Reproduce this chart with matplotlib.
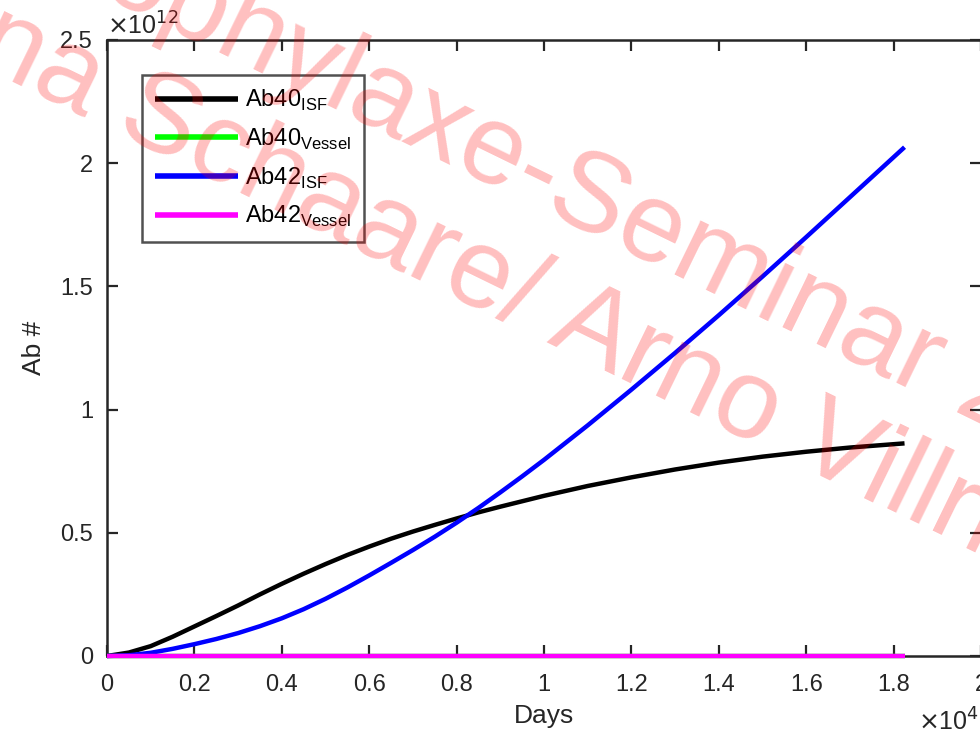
import matplotlib
matplotlib.use("Agg")
import matplotlib.pyplot as plt
from matplotlib.ticker import MultipleLocator, FuncFormatter

plt.rcParams['font.family'] = ['Liberation Sans', 'DejaVu Sans']

# ---- data (days, Ab count in units of 1e12) ----
days = [0, 500, 1000, 1500, 2000, 2500, 3000, 3500, 4000, 4500, 5000, 5500, 6000,
        6500, 7000, 7500, 8000, 8500, 9000, 9500, 10000, 11000, 12000, 13000,
        14000, 15000, 16000, 17000, 18250]
ab40_isf = [0, 0.014, 0.04, 0.078, 0.12, 0.162, 0.205, 0.25, 0.293, 0.334, 0.373, 0.41,
            0.444, 0.476, 0.505, 0.532, 0.558, 0.583, 0.606, 0.628, 0.65, 0.69,
            0.725, 0.757, 0.785, 0.809, 0.829, 0.846, 0.863]
ab42_isf = [0, 0.003, 0.013, 0.029, 0.048, 0.069, 0.093, 0.121, 0.153, 0.19, 0.232, 0.278,
            0.327, 0.378, 0.43, 0.484, 0.541, 0.601, 0.664, 0.729, 0.796, 0.936,
            1.081, 1.23, 1.383, 1.54, 1.70, 1.862, 2.065]
ab40_vessel = [0] * len(days)
ab42_vessel = [0] * len(days)
scale_y = 1e12

series = [
    (r'Ab40$_{\mathregular{ISF}}$', ab40_isf, 'black'),
    (r'Ab40$_{\mathregular{Vessel}}$', ab40_vessel, '#00ff00'),
    (r'Ab42$_{\mathregular{ISF}}$', ab42_isf, 'blue'),
    (r'Ab42$_{\mathregular{Vessel}}$', ab42_vessel, 'magenta'),
]

fig = plt.figure(figsize=(9.8, 7.35), dpi=100)
ax = fig.add_axes([107/980, 1 - 656/735, (981 - 107)/980, (656 - 40)/735])

for label, vals, col in series:
    ax.plot(days, [v * scale_y for v in vals], color=col, lw=3.2, label=label,
            solid_capstyle='butt', solid_joinstyle='round', clip_on=False, zorder=3)

ax.set_xlim(0, 20000)
ax.set_ylim(0, 2.5e12)
ax.xaxis.set_major_locator(MultipleLocator(2000))
ax.yaxis.set_major_locator(MultipleLocator(0.5e12))
ax.xaxis.set_major_formatter(FuncFormatter(lambda v, p: f"{v/1e4:g}"))
ax.yaxis.set_major_formatter(FuncFormatter(lambda v, p: f"{v/1e12:g}"))

for s in ax.spines.values():
    s.set_linewidth(1.8)
    s.set_color('#262626')
ax.tick_params(direction='in', length=8, width=1.6, colors='#262626',
               labelsize=17, top=True, right=True)
ax.tick_params(axis='x', pad=13)
ax.tick_params(axis='y', pad=10)

ax.set_xlabel('Days', fontsize=19, color='#262626', labelpad=6)
ax.set_ylabel('Ab #', fontsize=19, color='#262626', labelpad=10)

ax.text(0.0, 1.0, r'$\times$10$^{12}$', transform=ax.transAxes, fontsize=18,
        ha='left', va='bottom', color='#262626')
ax.text(0.928, -0.085, r'$\times$10$^{4}$', transform=ax.transAxes, fontsize=18,
        ha='left', va='top', color='#262626')

leg = ax.legend(loc='upper left', bbox_to_anchor=(35/874, 1 - 35/616), fontsize=17,
                frameon=True, fancybox=False, handlelength=3.5, handletextpad=0.3,
                labelspacing=0.57, borderpad=0.55, borderaxespad=0)
leg.get_frame().set_edgecolor('#262626')
leg.get_frame().set_linewidth(1.8)
for h in leg.get_lines():
    h.set_linewidth(4)

# watermark
fig.text(0.612, 0.72, 'Prophylaxe-Seminar 2019', fontsize=82, color='red', alpha=0.25,
         rotation=-26, ha='center', va='center', rotation_mode='anchor', zorder=10)
fig.text(0.54, 0.59, 'Anna Schaare/ Arno Villringer', fontsize=82, color='red', alpha=0.25,
         rotation=-26, ha='center', va='center', rotation_mode='anchor', zorder=10)

fig.savefig('out.png', dpi=100)
